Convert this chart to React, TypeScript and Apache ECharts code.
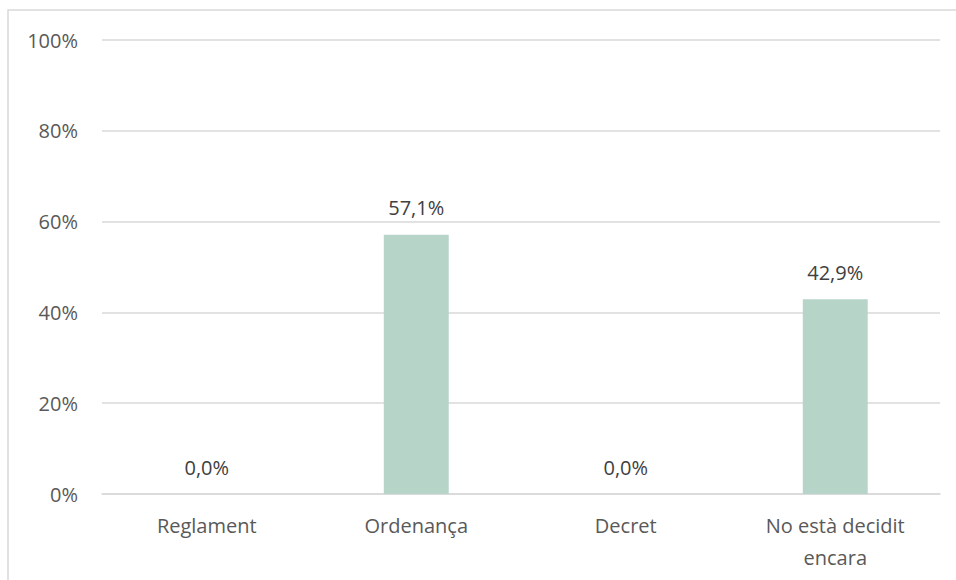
import React, { useEffect, useRef } from "react";
import * as echarts from "echarts";

const categories = ["Reglament", "Ordenança", "Decret", "No està decidit\nencara"];
const values = [0.0, 57.1, 0.0, 42.9];
const yTicks = [0, 20, 40, 60, 80, 100];

export default function App() {
  const ref = useRef<HTMLDivElement>(null);
  useEffect(() => {
    const chart = echarts.init(ref.current!, null, { renderer: "svg" });
    const font = "'Open Sans', sans-serif";
    chart.setOption({
      animation: false,
      backgroundColor: "#ffffff",
      graphic: [
        {
          type: "rect",
          shape: { x: 8, y: 10, width: 980, height: 620 },
          style: { fill: "none", stroke: "#d9d9d9", lineWidth: 1.5 },
          silent: true,
        },
      ],
      grid: { left: 102, right: 16, top: 40, bottom: 86 },
      xAxis: {
        type: "category",
        data: categories,
        axisTick: { show: false },
        axisLine: { lineStyle: { color: "#d9d9d9", width: 1.5 } },
        axisLabel: { color: "#595959", fontSize: 20, fontFamily: font, margin: 15, lineHeight: 32 },
      },
      yAxis: {
        type: "value",
        min: yTicks[0],
        max: yTicks[yTicks.length - 1],
        interval: 20,
        axisLine: { show: false },
        axisTick: { show: false },
        splitLine: { lineStyle: { color: "#d9d9d9", width: 1.5 } },
        axisLabel: {
          color: "#595959",
          fontSize: 20,
          fontFamily: font,
          margin: 24,
          formatter: (v: number) => `${v}%`,
        },
      },
      series: [
        {
          type: "bar",
          data: values,
          barWidth: "31%",
          itemStyle: { color: "#b6d4c8" },
          label: {
            show: true,
            position: "top",
            distance: 17,
            color: "#404040",
            fontSize: 20,
            fontFamily: font,
            formatter: (p: any) => `${p.value.toFixed(1).replace(".", ",")}%`,
          },
        },
      ],
    });
    return () => chart.dispose();
  }, []);
  return (
    <div
      ref={ref}
      style={{ position: "fixed", left: 0, top: 0, width: 956, height: 580 }}
    />
  );
}
